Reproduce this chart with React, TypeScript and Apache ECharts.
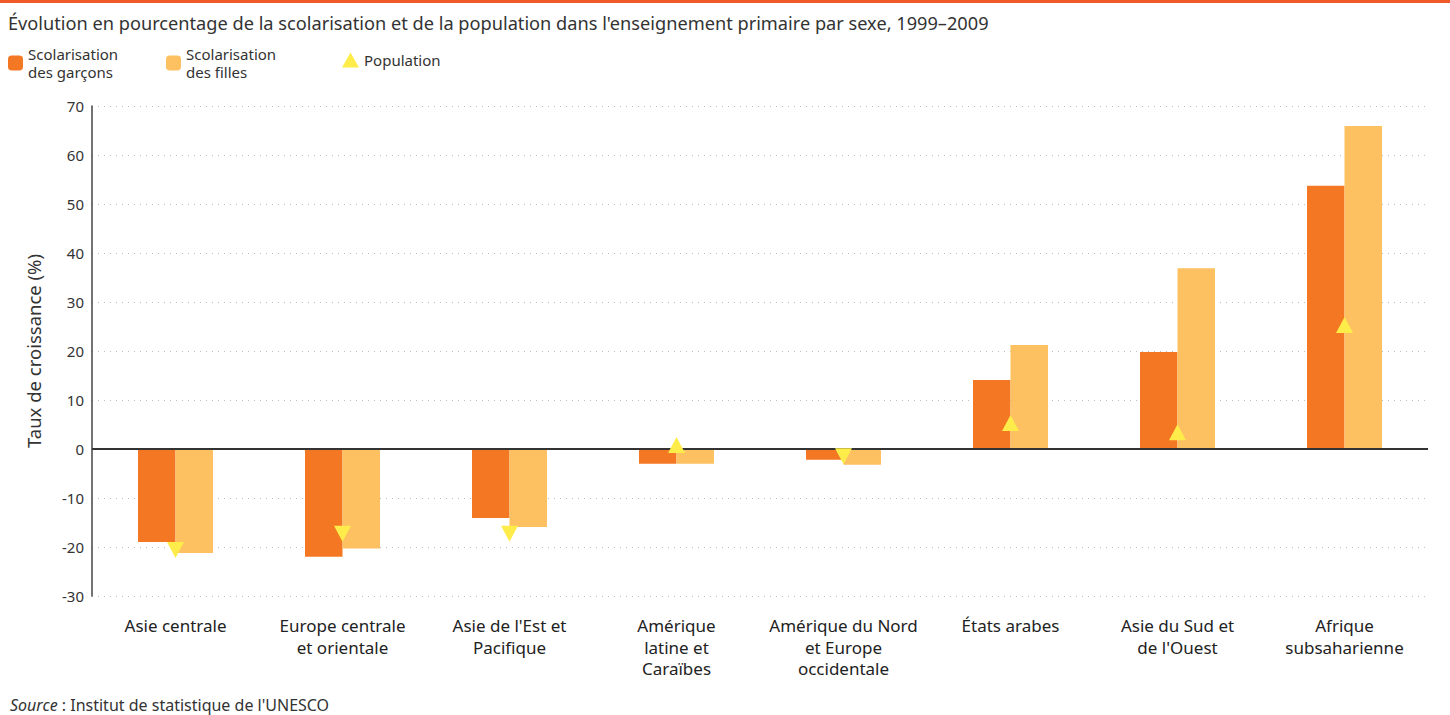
import React, { useEffect, useRef } from "react";
import * as echarts from "echarts";

const categories = [
  "Asie centrale",
  "Europe centrale\net orientale",
  "Asie de l'Est et\nPacifique",
  "Amérique\nlatine et\nCaraïbes",
  "Amérique du Nord\net Europe\noccidentale",
  "États arabes",
  "Asie du Sud et\nde l'Ouest",
  "Afrique\nsubsaharienne",
];
const boys = [-19.0, -22.0, -14.1, -3.0, -2.2, 14.1, 19.8, 53.7];
const girls = [-21.2, -20.3, -15.9, -3.0, -3.2, 21.2, 36.9, 65.9];
const population = [-20.6, -17.3, -17.3, 0.8, -1.5, 5.3, 3.4, 25.3];
const yTicks = { min: -30, max: 70, interval: 10 };

const FONT = "'Noto Sans', 'Open Sans', sans-serif";
const BOYS = "#f47723";
const GIRLS = "#fdc161";
const POP = "#fdec4a";

export default function App() {
  const ref = useRef<HTMLDivElement>(null);
  useEffect(() => {
    if (!ref.current) return;
    const chart = echarts.init(ref.current, null, { renderer: "svg" });
    const legendText = { fontFamily: FONT, fontSize: 15, color: "#333", lineHeight: 18 };
    chart.setOption({
      animation: false,
      textStyle: { fontFamily: FONT },
      title: {
        text: "Évolution en pourcentage de la scolarisation et de la population dans l'enseignement primaire par sexe, 1999–2009",
        left: 3,
        top: 9,
        textStyle: { fontFamily: FONT, fontSize: 18.2, fontWeight: "normal", color: "#333" },
      },
      legend: [
        {
          data: ["Scolarisation des garçons"],
          left: 3,
          top: 40,
          itemWidth: 15,
          itemHeight: 15,
          formatter: () => "Scolarisation\ndes garçons",
          textStyle: legendText,
        },
        {
          data: ["Scolarisation des filles"],
          left: 161,
          top: 40,
          itemWidth: 15,
          itemHeight: 15,
          formatter: () => "Scolarisation\ndes filles",
          textStyle: legendText,
        },
        {
          data: [{ name: "Population", icon: "triangle" }],
          left: 337,
          top: 46,
          itemWidth: 17,
          itemHeight: 15,
          textStyle: legendText,
        },
      ],
      grid: { left: 92, right: 22, top: 106, bottom: 119 },
      xAxis: {
        type: "category",
        data: categories,
        axisLine: { show: false, onZero: false },
        axisTick: { show: false },
        axisLabel: {
          interval: 0,
          margin: 19,
          fontFamily: FONT,
          fontSize: 17,
          color: "#222",
          lineHeight: 21.5,
        },
      },
      yAxis: {
        type: "value",
        min: yTicks.min,
        max: yTicks.max,
        interval: yTicks.interval,
        name: "Taux de croissance (%)",
        nameLocation: "middle",
        nameGap: 49,
        nameTextStyle: { fontFamily: FONT, fontSize: 18.5, color: "#333" },
        axisLine: { show: true, lineStyle: { color: "#444", width: 1.5 } },
        axisTick: { show: false },
        axisLabel: { fontFamily: FONT, fontSize: 15, color: "#333", margin: 8 },
        splitLine: { show: true, lineStyle: { color: "#bbb", type: [1, 5], width: 1 } },
      },
      series: [
        {
          name: "Scolarisation des garçons",
          type: "bar",
          data: boys,
          barWidth: 37.5,
          barGap: "0%",
          itemStyle: { color: BOYS },
          markLine: {
            silent: true,
            symbol: "none",
            label: { show: false },
            lineStyle: { color: "#333", width: 2, type: "solid" },
            data: [{ yAxis: 0 }],
          },
        },
        {
          name: "Scolarisation des filles",
          type: "bar",
          data: girls,
          barWidth: 37.5,
          barGap: "0%",
          itemStyle: { color: GIRLS },
        },
        {
          name: "Population",
          type: "scatter",
          symbol: "triangle",
          symbolSize: [17, 16],
          z: 5,
          itemStyle: { color: POP, opacity: 1 },
          data: population.map((v) => ({ value: v, symbolRotate: v < 0 ? 180 : 0 })),
        },
      ],
      graphic: [
        {
          type: "rect",
          left: 0,
          top: 0,
          shape: { width: 1450, height: 3 },
          style: { fill: "#f05a28" },
        },
        {
          type: "text",
          left: 10,
          top: 697,
          style: {
            text: "{i|Source} : Institut de statistique de l'UNESCO",
            fontFamily: FONT,
            fontSize: 16,
            fill: "#333",
            rich: { i: { fontStyle: "italic", fontFamily: FONT, fontSize: 16, fill: "#333" } },
          },
        },
      ],
    });
    return () => chart.dispose();
  }, []);
  return (
    <div
      ref={ref}
      style={{ position: "fixed", left: 0, top: 0, width: 1450, height: 715, background: "#fff" }}
    />
  );
}
